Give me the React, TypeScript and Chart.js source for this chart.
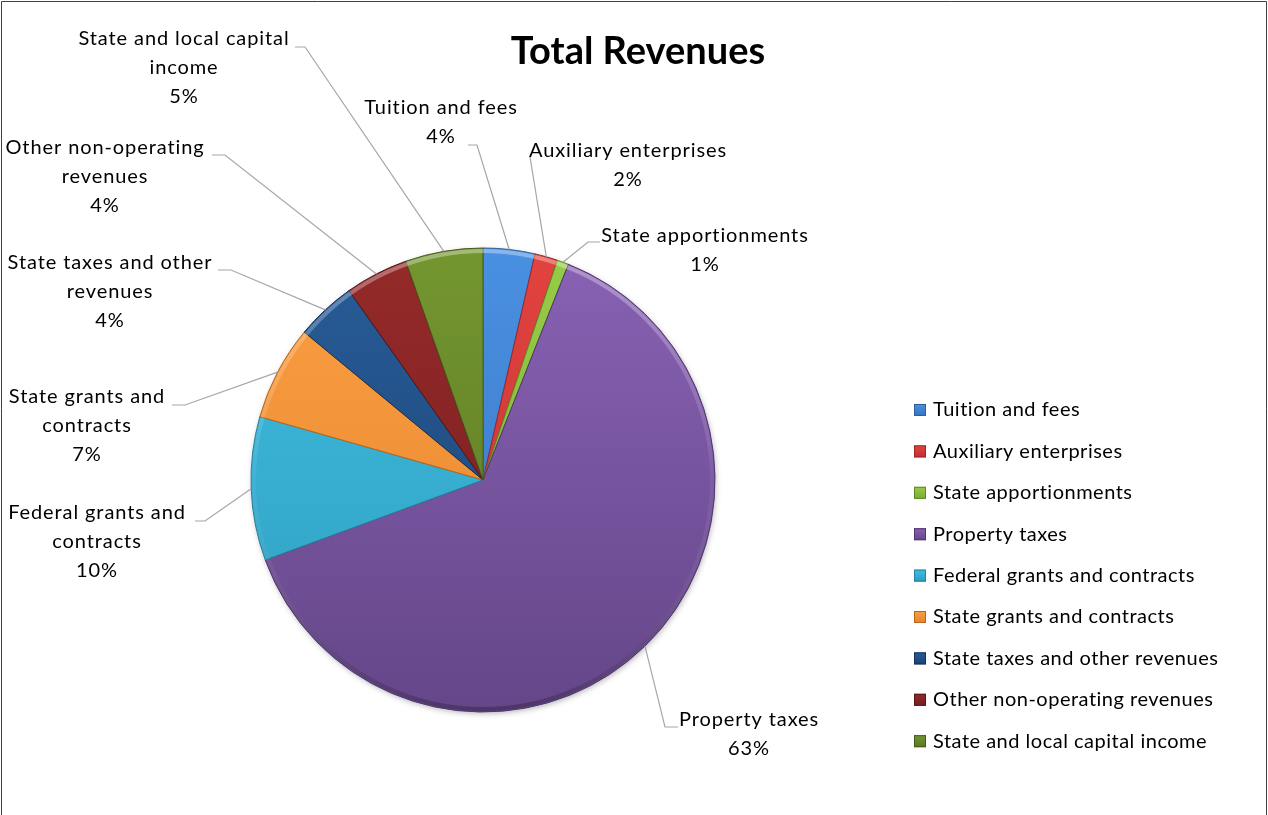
import React, { useEffect, useRef } from "react";
import { Chart, registerables } from "chart.js";
Chart.register(...registerables);

const title = "Total Revenues";
const categories = [
  "Tuition and fees",
  "Auxiliary enterprises",
  "State apportionments",
  "Property taxes",
  "Federal grants and contracts",
  "State grants and contracts",
  "State taxes and other revenues",
  "Other non-operating revenues",
  "State and local capital income",
];
const shares = [3.6, 1.6, 0.8, 63.4, 10.0, 6.6, 4.2, 4.4, 5.4];
const labelLines = [
  ["Tuition and fees"],
  ["Auxiliary enterprises"],
  ["State apportionments"],
  ["Property taxes"],
  ["Federal grants and", "contracts"],
  ["State grants and", "contracts"],
  ["State taxes and other", "revenues"],
  ["Other non-operating", "revenues"],
  ["State and local capital", "income"],
];

const topColors = ["#4a90e2", "#e2443f", "#97cc48", "#8962b4", "#40bde0", "#fba044", "#285c98", "#952a2a", "#749630"];
const bottomColors = ["#3674bd", "#c12f30", "#7aab30", "#654689", "#2e9ebf", "#e5822a", "#1b4272", "#741d1e", "#5a7623"];
const edgeColors = ["#2d5f99", "#9c2729", "#5e8a22", "#4f3670", "#26819c", "#b8661e", "#142f52", "#561516", "#435a19"];

// label layout, relative to the pie centre: text centre (cx, first-line cy), attach point, elbow point
const labelLayout = [
  { cx: -42, cy: -372, ax: -15, ay: -335, ex: -6, ey: -335 },
  { cx: 145, cy: -329, ax: 47, ay: -323, ex: 47, ey: -323 },
  { cx: 222, cy: -244, ax: 117, ay: -238, ex: 105, ey: -238 },
  { cx: 266, cy: 240, ax: 195, ay: 247, ex: 182, ey: 247 },
  { cx: -386, cy: 33, ax: -288, ay: 41, ex: -278, ey: 41 },
  { cx: -396, cy: -83, ax: -311, ay: -75, ex: -298, ey: -75 },
  { cx: -373, cy: -217, ax: -265, ay: -210, ex: -252, ey: -210 },
  { cx: -378, cy: -332, ax: -271, ay: -325, ex: -258, ey: -325 },
  { cx: -299, cy: -441, ax: -188, ay: -433, ex: -178, ey: -433 },
];

const W = 1268;
const H = 815;
const FONT = "Lato, 'Open Sans', sans-serif";
const LINE_H = 29;

const decorPlugin = {
  id: "decor",
  beforeDraw(chart: any) {
    const ctx = chart.ctx;
    ctx.save();
    ctx.fillStyle = "#ffffff";
    ctx.fillRect(0, 0, chart.width, chart.height);
    ctx.strokeStyle = "#404040";
    ctx.lineWidth = 1;
    ctx.beginPath();
    ctx.moveTo(1.5, chart.height + 5);
    ctx.lineTo(1.5, 1.5);
    ctx.lineTo(chart.width - 1.5, 1.5);
    ctx.lineTo(chart.width - 1.5, chart.height + 5);
    ctx.stroke();
    ctx.restore();
  },
  beforeDatasetsDraw(chart: any) {
    const meta = chart.getDatasetMeta(0);
    const a = meta.data[0];
    if (!a) return;
    const ctx = chart.ctx;
    ctx.save();
    ctx.shadowColor = "rgba(0,0,0,0.35)";
    ctx.shadowBlur = 6;
    ctx.shadowOffsetX = 1;
    ctx.shadowOffsetY = 2;
    ctx.fillStyle = "#888";
    ctx.beginPath();
    ctx.arc(a.x, a.y, a.outerRadius - 1, 0, Math.PI * 2);
    ctx.fill();
    ctx.restore();
  },
  afterDatasetsDraw(chart: any) {
    const ctx = chart.ctx;
    const meta = chart.getDatasetMeta(0);
    const data = chart.data.datasets[0].data as number[];
    const total = data.reduce((s, v) => s + v, 0);
    ctx.save();
    // bevel rim
    const a0 = meta.data[0];
    const cx0 = a0.x, cy0 = a0.y, R = a0.outerRadius;
    const rim = ctx.createLinearGradient(0, cy0 - R, 0, cy0 + R);
    rim.addColorStop(0, "rgba(255,255,255,0.35)");
    rim.addColorStop(0.5, "rgba(255,255,255,0.05)");
    rim.addColorStop(1, "rgba(0,0,0,0.25)");
    ctx.strokeStyle = rim;
    ctx.lineWidth = 4;
    ctx.beginPath();
    ctx.arc(cx0, cy0, R - 3, 0, Math.PI * 2);
    ctx.stroke();

    // labels and leaders
    ctx.font = `20px ${FONT}`;
    (ctx as any).letterSpacing = "0.9px";
    ctx.textAlign = "center";
    ctx.textBaseline = "middle";
    meta.data.forEach((arc: any, i: number) => {
      const mid = (arc.startAngle + arc.endAngle) / 2;
      const px = arc.x + Math.cos(mid) * arc.outerRadius;
      const py = arc.y + Math.sin(mid) * arc.outerRadius;
      const L = labelLayout[i];
      ctx.strokeStyle = "#a6a6a6";
      ctx.lineWidth = 1.2;
      ctx.beginPath();
      ctx.moveTo(arc.x + L.ax, arc.y + L.ay);
      ctx.lineTo(arc.x + L.ex, arc.y + L.ey);
      ctx.lineTo(px, py);
      ctx.stroke();
      const lines = [...labelLines[i], Math.round((data[i] / total) * 100) + "%"];
      ctx.fillStyle = "#000000";
      lines.forEach((t, k) => {
        ctx.fillText(t, arc.x + L.cx, arc.y + L.cy + k * LINE_H);
      });
    });

    // legend
    const lx = 914;
    const ly = 410;
    const step = 41.4;
    ctx.textAlign = "left";
    (ctx as any).letterSpacing = "0.5px";
    categories.forEach((c, i) => {
      const y = ly + i * step;
      const g = ctx.createLinearGradient(0, y - 6, 0, y + 6);
      g.addColorStop(0, topColors[i]);
      g.addColorStop(1, bottomColors[i]);
      ctx.fillStyle = g;
      ctx.fillRect(lx, y - 6, 12, 12);
      ctx.strokeStyle = edgeColors[i];
      ctx.lineWidth = 1;
      ctx.strokeRect(lx + 0.5, y - 5.5, 11, 11);
      ctx.fillStyle = "#000000";
      ctx.fillText(c, lx + 19, y);
    });

    // title
    (ctx as any).letterSpacing = "0px";
    ctx.font = `bold 38px ${FONT}`;
    ctx.textAlign = "center";
    ctx.fillText(title, 638, 52);
    ctx.restore();
  },
};

export default function App() {
  const ref = useRef<HTMLCanvasElement | null>(null);
  useEffect(() => {
    document.body.style.margin = "0";
    const canvas = ref.current!;
    const chart = new Chart(canvas, {
      type: "pie",
      data: {
        labels: categories,
        datasets: [
          {
            data: shares,
            backgroundColor: (c: any) => {
              const ch = c.chart;
              const i = c.dataIndex;
              const area = ch.chartArea;
              if (!area) return topColors[i];
              const cy = (area.top + area.bottom) / 2;
              const g = ch.ctx.createLinearGradient(0, cy - 232, 0, cy + 232);
              g.addColorStop(0, topColors[i]);
              g.addColorStop(1, bottomColors[i]);
              return g;
            },
            borderColor: edgeColors,
            borderWidth: 1,
          },
        ],
      },
      options: {
        responsive: false,
        animation: false,
        radius: 232,
        layout: { padding: { left: 0, right: 302, top: 145, bottom: 0 } },
        plugins: {
          legend: { display: false },
          tooltip: { enabled: false },
          title: { display: false },
        },
      } as any,
      plugins: [decorPlugin],
    });
    return () => chart.destroy();
  }, []);
  return (
    <div style={{ position: "absolute", left: 0, top: 0, width: W, height: H }}>
      <canvas ref={ref} width={W} height={H} style={{ width: W, height: H, display: "block" }} />
    </div>
  );
}
